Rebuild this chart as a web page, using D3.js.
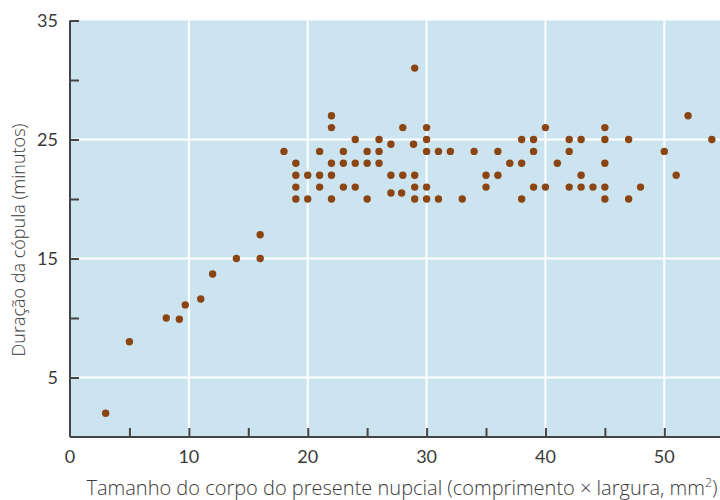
<!DOCTYPE html>
<html><head><meta charset="utf-8">
<script src="https://cdn.jsdelivr.net/npm/d3@7"></script>
<style>
html,body{margin:0;padding:0;background:#fff;}
svg text{fill:#3a3a3a;}
.tick-label{font-family:Lato,sans-serif;}
.title{font-family:"Open Sans",sans-serif;font-weight:300;}
</style></head>
<body>
<svg id="chart" width="720" height="500"></svg>
<script>
const sizeX = [3,5,8.1,9.2,9.7,11,12,14,16,16,
 18,19,19,19,19,20,20,21,21,21,22,22,22,22,22,23,23,23,24,24,24,25,25,25,26,26,26,
 27,27,27,28,28,27.9,29,28.9,29,29,29,30,30,30,30,30,31,31,32,33,34,35,35,36,36,
 37,38,38,38,39,39,39,40,40,41,42,42,42,43,43,43,44,45,45,45,45,45,47,47,48,50,51,52,54];
const durationY = [2,8,10,9.9,11.1,11.6,13.7,15,15,17,
 24,23,22,21,20,22,20,24,22,21,27,26,23,22,20,24,23,21,25,23,21,24,23,20,25,24,23,
 24.6,22,20.5,26,22,20.5,31,24.6,22,21,20,26,25,24,21,20,24,20,24,20,24,22,21,24,22,
 23,25,23,20,25,24,21,26,21,23,25,24,21,25,22,21,21,26,25,23,21,20,25,20,21,24,22,27,25];
const xTicks = [0,10,20,30,40,50];
const yTicks = [5,15,25,35];
const xLabel = "Tamanho do corpo do presente nupcial (comprimento × largura, mm";
const yLabel = "Duração da cópula (minutos)";

const svg = d3.select("#chart");
const L = 70, T = 20.5, R = 720, B = 437;
const x = d3.scaleLinear().domain([0, 50]).range([L, 664.3]);
const y = d3.scaleLinear().domain([0, 35]).range([B, T]);
const xMax = x.invert(R);

svg.append("rect").attr("x", L).attr("y", T).attr("width", R - L).attr("height", B - T).attr("fill", "#cce4ef");

// grid
svg.append("g").selectAll("line").data(xTicks.filter(d => d > 0)).join("line")
  .attr("x1", d => x(d)).attr("x2", d => x(d)).attr("y1", T).attr("y2", B)
  .attr("stroke", "#fff").attr("stroke-width", 2);
svg.append("g").selectAll("line").data(yTicks.filter(d => d < 35)).join("line")
  .attr("x1", L).attr("x2", R).attr("y1", d => y(d)).attr("y2", d => y(d))
  .attr("stroke", "#fff").attr("stroke-width", 2);

// points
svg.append("g").selectAll("circle").data(sizeX.map((v, i) => [v, durationY[i]])).join("circle")
  .attr("cx", d => x(d[0])).attr("cy", d => y(d[1])).attr("r", 3.7).attr("fill", "#8b4513");

// axes
const xAxis = d3.axisBottom(x).tickValues(d3.range(0, xMax, 5)).tickSize(-9).tickFormat("");
const gx = svg.append("g").attr("transform", `translate(0,${B})`).call(xAxis);
const yAxis = d3.axisLeft(y).tickValues(d3.range(0, 36, 5)).tickSize(-9).tickFormat("");
const gy = svg.append("g").attr("transform", `translate(${L},0)`).call(yAxis);
[gx, gy].forEach(g => {
  g.select(".domain").attr("stroke", "#444").attr("stroke-width", 2);
  g.selectAll(".tick line").attr("stroke", "#444").attr("stroke-width", 2);
});
gx.select(".domain").attr("d", `M${L},0H${R}`);
gy.select(".domain").attr("d", `M0,${T}V${B}`);
gy.selectAll(".tick").filter(d => d === 0).remove();
gx.selectAll(".tick").filter(d => d === 0).remove();

// tick labels
svg.append("g").selectAll("text").data(xTicks).join("text").attr("class", "tick-label")
  .attr("x", d => x(d)).attr("y", 463).attr("text-anchor", "middle")
  .attr("font-size", 18).text(d => d);
svg.append("g").selectAll("text").data(yTicks).join("text").attr("class", "tick-label")
  .attr("x", 58).attr("y", d => y(d) + 6.5).attr("text-anchor", "end")
  .attr("font-size", 18).text(d => d);

// axis titles
const xt = svg.append("text").attr("class", "title").attr("x", 402).attr("y", 495).attr("text-anchor", "middle")
  .attr("font-size", 20);
xt.append("tspan").text(xLabel);
xt.append("tspan").attr("font-size", 12.5).attr("dy", -8).text("2");
xt.append("tspan").attr("dy", 8).text(")");
svg.append("text").attr("class", "title").attr("transform", "translate(25,240) rotate(-90)").attr("text-anchor", "middle")
  .attr("font-size", 18).text(yLabel);
</script>
</body></html>
